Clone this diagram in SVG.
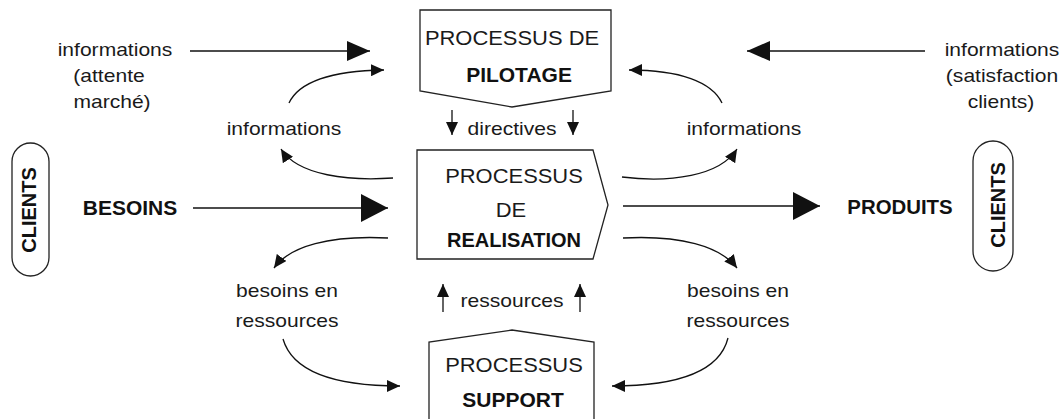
<svg xmlns="http://www.w3.org/2000/svg" width="1060" height="419" viewBox="0 0 1060 419">
<style>
  .bg{fill:#ffffff}
  .box{fill:#ffffff;stroke:#222;stroke-width:1.3}
  .ln{fill:none;stroke:#111;stroke-width:1.3}
  .t{font-family:"Liberation Sans",Arial,sans-serif;font-size:18px;fill:#1a1a1a;text-anchor:middle}
  .u{font-family:"Liberation Sans",Arial,sans-serif;font-size:20.5px;fill:#1a1a1a;text-anchor:middle}
  .b{font-family:"Liberation Sans",Arial,sans-serif;font-size:20px;font-weight:bold;fill:#111;text-anchor:middle}
</style>
<defs>
  <marker id="aL" markerUnits="userSpaceOnUse" markerWidth="28" markerHeight="28" refX="27" refY="14" orient="auto">
    <path d="M0,0 L27,14 L0,28 z" fill="#111"/>
  </marker>
  <marker id="aM" markerUnits="userSpaceOnUse" markerWidth="24" markerHeight="20" refX="23" refY="10" orient="auto">
    <path d="M0,0 L23,10 L0,20 z" fill="#111"/>
  </marker>
  <marker id="aS" markerUnits="userSpaceOnUse" markerWidth="14" markerHeight="12" refX="13" refY="6" orient="auto">
    <path d="M0,0 L13,6 L0,12 z" fill="#111"/>
  </marker>
</defs>
<rect class="bg" x="0" y="0" width="1060" height="419"/>

<g id="connectors">
  <path class="ln" d="M190,51 L370,51" marker-end="url(#aM)"/>
  <path class="ln" d="M925,51 L747,51" marker-end="url(#aM)"/>
  <path class="ln" d="M193,208 L388,208" marker-end="url(#aL)"/>
  <path class="ln" d="M623,206 L820,206" marker-end="url(#aL)"/>
  <path class="ln" d="M452,110 L452,135" marker-end="url(#aS)"/>
  <path class="ln" d="M573,110 L573,135" marker-end="url(#aS)"/>
  <path class="ln" d="M443,312 L443,284" marker-end="url(#aS)"/>
  <path class="ln" d="M580,312 L580,284" marker-end="url(#aS)"/>
  <path class="ln" d="M289,103 C298,84 325,71 384,70" marker-end="url(#aS)"/>
  <path class="ln" d="M393,178 C350,181 298,176 281,149" marker-end="url(#aS)"/>
  <path class="ln" d="M722,103 C712,82 680,70 629,70" marker-end="url(#aS)"/>
  <path class="ln" d="M622,177 C670,183 720,176 737,149" marker-end="url(#aS)"/>
  <path class="ln" d="M388,238 C330,235 290,246 274,268" marker-end="url(#aS)"/>
  <path class="ln" d="M283,339 C292,370 330,386 400,386" marker-end="url(#aS)"/>
  <path class="ln" d="M623,238 C680,235 720,246 737,268" marker-end="url(#aS)"/>
  <path class="ln" d="M728,338 C720,370 680,386 612,386" marker-end="url(#aS)"/>
</g>

<g id="pilotage">
  <polygon class="box" points="420,10 611,10 611,91 512,107 420,91"/>
  <text class="u" transform="translate(512 45) scale(1.07 1)">PROCESSUS DE</text>
  <text class="b" transform="translate(519 82) scale(1.05 1)">PILOTAGE</text>
</g>

<g id="realisation">
  <polygon class="box" points="417,150 593,150 608,205 593,259 417,259"/>
  <text class="u" transform="translate(514 183) scale(1.07 1)">PROCESSUS</text>
  <text class="u" transform="translate(511 217) scale(1.07 1)">DE</text>
  <text class="b" transform="translate(514 247) scale(1.0 1)">REALISATION</text>
</g>

<g id="support">
  <polygon class="box" points="429,421 429,342 512,330 594,342 594,421"/>
  <text class="u" transform="translate(514 372) scale(1.07 1)">PROCESSUS</text>
  <text class="b" transform="translate(513 407) scale(1.05 1)">SUPPORT</text>
</g>

<g id="clients-left">
  <rect class="box" x="12" y="143" width="37" height="133" rx="18.5" ry="18.5"/>
  <text class="b" transform="translate(36 210) rotate(-90)">CLIENTS</text>
</g>

<g id="clients-right">
  <rect class="box" x="973" y="141" width="40" height="130" rx="20" ry="20"/>
  <text class="b" transform="translate(1005 205) rotate(-90)">CLIENTS</text>
</g>

<g id="besoins">
  <text class="b" transform="translate(130 215) scale(1.05 1)">BESOINS</text>
</g>
<g id="produits">
  <text class="b" transform="translate(900 214) scale(1.02 1)">PRODUITS</text>
</g>

<g id="info-attente">
  <text class="t" transform="translate(115 56) scale(1.17 1)">informations</text>
  <text class="t" transform="translate(109 82) scale(1.17 1)">(attente</text>
  <text class="t" transform="translate(112 108) scale(1.17 1)">marché)</text>
</g>
<g id="info-satisfaction">
  <text class="t" transform="translate(1002 56) scale(1.17 1)">informations</text>
  <text class="t" transform="translate(1002 82) scale(1.17 1)">(satisfaction</text>
  <text class="t" transform="translate(1001 108) scale(1.17 1)">clients)</text>
</g>
<g id="info-left">
  <text class="t" transform="translate(284 135) scale(1.17 1)">informations</text>
</g>
<g id="info-right">
  <text class="t" transform="translate(744 135) scale(1.17 1)">informations</text>
</g>
<g id="directives">
  <text class="t" transform="translate(512 135) scale(1.17 1)">directives</text>
</g>
<g id="ressources">
  <text class="t" transform="translate(512 307) scale(1.17 1)">ressources</text>
</g>
<g id="besoins-left">
  <text class="t" transform="translate(287 297) scale(1.17 1)">besoins en</text>
  <text class="t" transform="translate(287 327) scale(1.17 1)">ressources</text>
</g>
<g id="besoins-right">
  <text class="t" transform="translate(738 297) scale(1.17 1)">besoins en</text>
  <text class="t" transform="translate(738 327) scale(1.17 1)">ressources</text>
</g>
</svg>
